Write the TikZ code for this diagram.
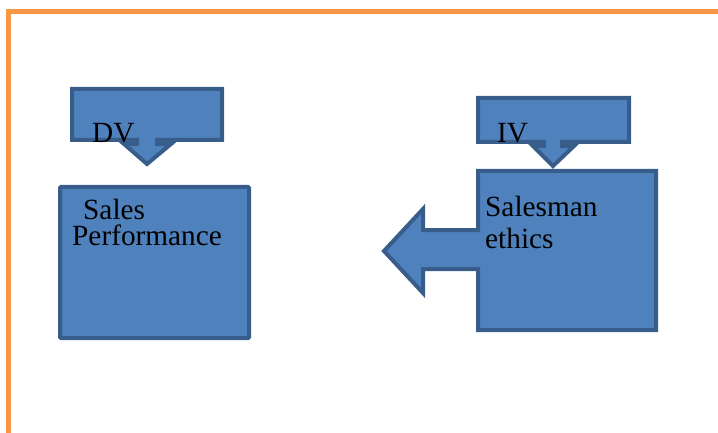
\documentclass[tikz,border=0pt]{standalone}
\usepackage{fontspec}
\setmainfont{Liberation Serif}
\definecolor{boxfill}{HTML}{4F81BD}
\definecolor{boxline}{HTML}{385D8A}
\definecolor{frameorange}{HTML}{F79646}
\tikzset{blockshape/.style={fill=boxfill, draw=boxline, line width=4pt},
boxtext/.style={font=\fontsize{29.3}{29}\selectfont, inner sep=0pt, anchor=base west}}

\begin{document}
\begin{tikzpicture}[x=1pt,y=-1pt]
\useasboundingbox (0,0) rectangle (718,433);
\draw[frameorange, line width=5pt] (8,433) -- (8,12) -- (718,12);
\draw[blockshape] (72,89) -- (222,89) -- (222,140) -- (157,140) -- (157,144) -- (171,144) -- (147,164) -- (124,144) -- (137,144) -- (137,140) -- (72,140) -- cycle;
\draw[blockshape] (478,98) -- (629,98) -- (629,142) -- (562,142) -- (562,146) -- (574,146) -- (553,166) -- (533,146) -- (544,146) -- (544,142) -- (478,142) -- cycle;
\draw[blockshape, rounded corners=1pt] (60,187) rectangle (249,338);
\draw[blockshape] (478,171) -- (656,171) -- (656,330) -- (478,330) -- (478,269) -- (423,269) -- (423,293) -- (384,251) -- (423,209) -- (423,230) -- (478,230) -- cycle;
\node[boxtext] (dvtext) at (92,143) {DV};
\node[boxtext] (ivtext) at (497,143) {IV};
\node[boxtext] (salestext) at (83,219) {Sales};
\node[boxtext] (perftext) at (72,245) {Performance};
\node[boxtext] (salesmantext) at (485,216) {Salesman};
\node[boxtext] (ethicstext) at (485,248) {ethics};
\end{tikzpicture}
\end{document}
